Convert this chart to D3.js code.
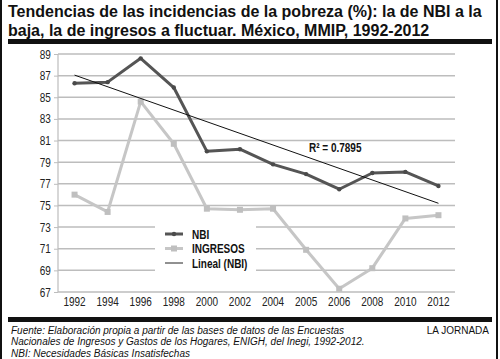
<!DOCTYPE html>
<html><head><meta charset="utf-8">
<script src="https://cdn.jsdelivr.net/npm/d3@7"></script>
<style>body{margin:0;background:#fff}svg{display:block}</style>
</head><body>
<script>
const years = ["1992","1994","1996","1998","2000","2002","2004","2005","2006","2008","2010","2012"];
const nbi = [86.3,86.4,88.6,85.9,80.0,80.2,78.8,77.9,76.5,78.0,78.1,76.8];
const ingresos = [76.0,74.4,84.6,80.7,74.7,74.6,74.7,70.9,67.3,69.2,73.8,74.1];
const yTicks = [67,69,71,73,75,77,79,81,83,85,87,89];
const r2Label = "R² = 0.7895";
const legendLabels = ["NBI","INGRESOS","Lineal (NBI)"];

const W=500,H=359;
const svg=d3.select("body").append("svg").attr("width",W).attr("height",H);
const sans="'Liberation Sans',Arial,sans-serif";
const SX=0.8; // condensed look

// frame
svg.append("rect").attr("x",1).attr("y",-2).attr("width",496).attr("height",H+4).attr("fill","none").attr("stroke","#111").attr("stroke-width",2);

// title
svg.append("text").attr("x",8).attr("y",17).attr("font-family",sans).attr("font-weight","bold").attr("font-size",16).attr("fill","#111")
 .text("Tendencias de las incidencias de la pobreza (%): la de NBI a la");
svg.append("text").attr("x",8).attr("y",36).attr("font-family",sans).attr("font-weight","bold").attr("font-size",16).attr("fill","#111")
 .text("baja, la de ingresos a fluctuar. México, MMIP, 1992-2012");
svg.append("rect").attr("x",8).attr("y",39).attr("width",484).attr("height",5).attr("fill","#111");

const x=d3.scaleBand().domain(years).range([58,455]);
const y=d3.scaleLinear().domain([67,89]).range([292,54]);
const cx=d=>x(d)+x.bandwidth()/2;

// grid
svg.append("g").selectAll("line").data(yTicks).join("line")
 .attr("x1",58).attr("x2",455).attr("y1",d=>y(d)).attr("y2",d=>y(d))
 .attr("stroke","#bdbdbd").attr("stroke-width",1.5);
svg.append("line").attr("x1",58).attr("x2",58).attr("y1",y(89)).attr("y2",y(67)).attr("stroke","#bdbdbd").attr("stroke-width",1.2);

// y axis labels
const ya=svg.append("g").attr("transform","translate(58,0)").call(d3.axisLeft(y).tickValues(yTicks).tickSize(4).tickPadding(5).tickFormat(d3.format("d")));
ya.select(".domain").remove();
ya.selectAll("line").attr("stroke","#bdbdbd");
ya.selectAll("text").attr("font-family",sans).attr("font-size",12.5).attr("fill","#222").attr("transform",`scale(${SX},1)`);

// x axis labels
const xa=svg.append("g").attr("transform","translate(0,292)").call(d3.axisBottom(x).tickSize(0).tickPadding(5));
xa.select(".domain").remove();
xa.selectAll("text").attr("font-family",sans).attr("font-size",12.5).attr("fill","#222").attr("transform",`scale(${SX},1)`);

// legend background
svg.append("rect").attr("x",155).attr("y",225).attr("width",101).attr("height",47).attr("fill","#fff");

const line=d3.line().x((d,i)=>cx(years[i])).y(d=>y(d));
svg.append("path").datum(ingresos).attr("d",line).attr("fill","none").attr("stroke","#c6c6c6").attr("stroke-width",3).attr("stroke-linejoin","round");
svg.append("g").selectAll("rect").data(ingresos).join("rect")
 .attr("x",(d,i)=>cx(years[i])-3).attr("y",d=>y(d)-3).attr("width",6).attr("height",6).attr("fill","#bfbfbf");
svg.append("path").datum(nbi).attr("d",line).attr("fill","none").attr("stroke","#555").attr("stroke-width",3).attr("stroke-linejoin","round");
svg.append("g").selectAll("circle").data(nbi).join("circle")
 .attr("cx",(d,i)=>cx(years[i])).attr("cy",d=>y(d)).attr("r",2.2).attr("fill","#4a4a4a");

// linear trend (least squares on NBI)
const n=nbi.length, xs=d3.range(1,n+1);
const mx=d3.mean(xs), my=d3.mean(nbi);
const slope=d3.sum(xs.map((v,i)=>(v-mx)*(nbi[i]-my)))/d3.sum(xs.map(v=>(v-mx)**2));
const icpt=my-slope*mx;
svg.append("line").attr("x1",cx(years[0])).attr("y1",y(icpt+slope*1))
 .attr("x2",cx(years[n-1])).attr("y2",y(icpt+slope*n)).attr("stroke","#111").attr("stroke-width",1);

svg.append("g").attr("transform","translate(309,152)").append("text").attr("transform",`scale(${SX},1)`)
 .attr("font-family",sans).attr("font-weight","bold").attr("font-size",12.5).attr("fill","#111").text(r2Label);

// legend
const lg=svg.append("g");
const rows=[{c:"#555",w:3,m:"c"},{c:"#c6c6c6",w:3,m:"s"},{c:"#222",w:1,m:null}];
rows.forEach((r,i)=>{
  const yy=234+i*14.5;
  lg.append("line").attr("x1",165).attr("x2",183).attr("y1",yy).attr("y2",yy).attr("stroke",r.c).attr("stroke-width",r.w);
  if(r.m==="c") lg.append("circle").attr("cx",174).attr("cy",yy).attr("r",2.2).attr("fill","#4a4a4a");
  if(r.m==="s") lg.append("rect").attr("x",171).attr("y",yy-3).attr("width",6).attr("height",6).attr("fill","#bfbfbf");
  lg.append("g").attr("transform",`translate(192,${yy+4.5})`).append("text").attr("transform",`scale(${SX},1)`)
   .attr("font-family",sans).attr("font-weight","bold").attr("font-size",12.5).attr("fill","#111").text(legendLabels[i]);
});

// bottom bar and footer
svg.append("rect").attr("x",8).attr("y",317).attr("width",484).attr("height",5).attr("fill","#111");
const foot=["Fuente: Elaboración propia a partir de las bases de datos de las Encuestas","Nacionales de Ingresos y Gastos de los Hogares, ENIGH, del Inegi, 1992-2012.","NBI: Necesidades Básicas Insatisfechas"];
foot.forEach((t,i)=>svg.append("text").attr("x",11).attr("y",333.5+i*11.5).attr("font-family",sans).attr("font-style","italic").attr("font-size",10).attr("fill","#111").text(t));
svg.append("text").attr("x",489).attr("y",334).attr("text-anchor","end").attr("font-family",sans).attr("font-size",10).attr("fill","#111").text("LA JORNADA");
</script>
</body></html>
